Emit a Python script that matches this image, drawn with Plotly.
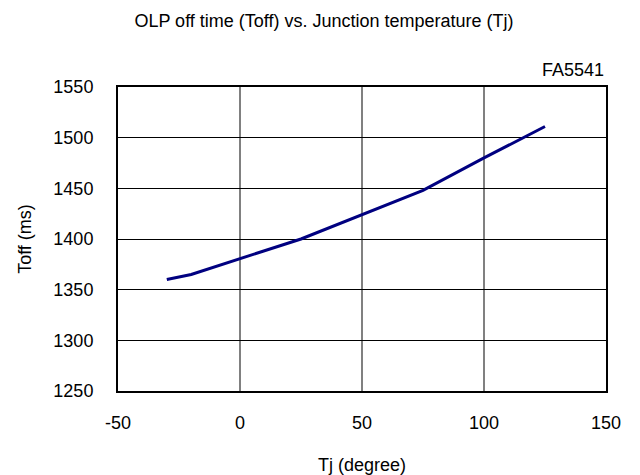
import plotly.graph_objects as go

tj = [-30, -20, 25, 75, 100, 125]
toff = [1360, 1365, 1400, 1448, 1480, 1511]
x_ticks = [-50, 0, 50, 100, 150]
x_tick_text = ["-50", "0", "50", "100", "150"]
y_ticks = [1250, 1300, 1350, 1400, 1450, 1500, 1550]

FF = "Arial, Liberation Sans, sans-serif"
W, H = 632, 467  # page body has an 8px margin

fig = go.Figure()
fig.add_trace(go.Scatter(x=tj, y=toff, mode="lines",
                         line=dict(color="#000080", width=3), showlegend=False))

fig.update_layout(
    width=W, height=H,
    margin=dict(l=110, r=34, t=79, b=84),
    paper_bgcolor="white", plot_bgcolor="white",
    font=dict(family=FF, size=18, color="black"),
    title=dict(text="OLP off time (Toff) vs. Junction temperature (Tj)",
               x=0.5, xanchor="center", y=1 - 13 / H, yanchor="middle",
               font=dict(family=FF, size=18)),
    xaxis=dict(range=[-50, 150], tickvals=x_ticks, ticktext=x_tick_text, showgrid=True,
               gridcolor="#808080", gridwidth=1.5, zeroline=False,
               showline=True, linecolor="black", linewidth=2, mirror=True,
               ticks="", ticklabelstandoff=14, automargin=False,
               tickfont=dict(size=18),
               title=dict(text="Tj (degree)", standoff=45, font=dict(size=18))),
    yaxis=dict(range=[1250, 1550], tickvals=y_ticks, showgrid=True,
               gridcolor="black", gridwidth=1, zeroline=False,
               showline=True, linecolor="black", linewidth=2, mirror=True,
               ticks="", ticklabelstandoff=19, automargin=False,
               tickfont=dict(size=18),
               title=dict(text="Toff (ms)", standoff=17, font=dict(size=18))),
    annotations=[dict(text="FA5541", xref="paper", yref="paper", x=1.0, y=1.0,
                      xanchor="right", yanchor="bottom", yshift=5, showarrow=False,
                      font=dict(family=FF, size=18))],
)

fig.write_html("out.html")
